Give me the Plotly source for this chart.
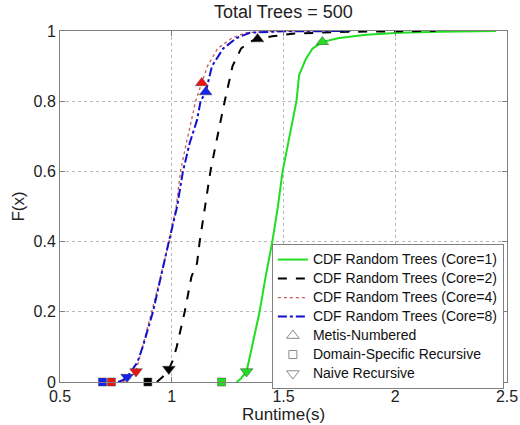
import plotly.graph_objects as go

# ---- data ----
core_labels = ["CDF Random Trees (Core=1)", "CDF Random Trees (Core=2)",
               "CDF Random Trees (Core=4)", "CDF Random Trees (Core=8)"]

core1_x = [1.29, 1.31, 1.335, 1.36, 1.393, 1.42, 1.45, 1.475, 1.496, 1.527, 1.558, 1.57, 1.60, 1.63, 1.674, 1.75, 1.87, 2.02, 2.2, 2.45]
core1_F = [0.0, 0.01, 0.03, 0.1, 0.2, 0.3, 0.4, 0.5, 0.6, 0.7, 0.8, 0.875, 0.92, 0.95, 0.969, 0.98, 0.989, 0.995, 0.998, 1.0]

core2_x = [0.933, 0.96, 0.987, 1.006, 1.022, 1.058, 1.088, 1.113, 1.125, 1.152, 1.173, 1.198, 1.219, 1.237, 1.272, 1.31, 1.35, 1.384, 1.45, 1.55, 1.8, 2.18]
core2_F = [0.0, 0.015, 0.037, 0.063, 0.1, 0.2, 0.3, 0.338, 0.4, 0.51, 0.6, 0.68, 0.746, 0.8, 0.9, 0.95, 0.97, 0.977, 0.985, 0.993, 0.998, 1.0]

core4_x = [0.78, 0.81, 0.84, 0.87, 0.91, 0.95, 0.988, 1.02, 1.039, 1.065, 1.088, 1.107, 1.134, 1.16, 1.205, 1.27, 1.33, 1.45, 1.7]
core4_F = [0.0, 0.01, 0.03, 0.1, 0.2, 0.3, 0.4, 0.5, 0.6, 0.68, 0.746, 0.8, 0.852, 0.9, 0.95, 0.98, 0.995, 0.999, 1.0]

core8_x = [0.76, 0.78, 0.80, 0.84, 0.85, 0.87, 0.916, 0.95, 0.987, 1.024, 1.05, 1.08, 1.113, 1.129, 1.152, 1.18, 1.23, 1.29, 1.35, 1.5, 1.8]
core8_F = [0.0, 0.005, 0.014, 0.05, 0.063, 0.1, 0.2, 0.3, 0.4, 0.5, 0.6, 0.68, 0.746, 0.8, 0.826, 0.9, 0.95, 0.98, 0.995, 0.999, 1.0]

# markers per core (order: core1, core2, core4, core8)
metis_x = [1.674, 1.384, 1.134, 1.152]
metis_F = [0.969, 0.977, 0.852, 0.826]
domain_x = [1.223, 0.893, 0.73, 0.69]
domain_F = [0.0, 0.0, 0.0, 0.0]
naive_x = [1.335, 0.987, 0.84, 0.80]
naive_F = [0.03, 0.037, 0.03, 0.014]

marker_labels = ["Metis-Numbered", "Domain-Specific Recursive", "Naive Recursive"]
x_ticks = [0.5, 1, 1.5, 2, 2.5]
x_ticktext = ["0.5", "1", "1.5", "2", "2.5"]
y_ticks = [0, 0.2, 0.4, 0.6, 0.8, 1]
y_ticktext = ["0", "0.2", "0.4", "0.6", "0.8", "1"]

line_colors = ["#22dd22", "#000000", "#c85a5a", "#1111cc"]
mark_colors = ["#22dd22", "#000000", "#ee1111", "#1122ee"]
dashes = ["solid", "dash", "dot", "dashdot"]
widths = [2, 2, 1.3, 2]

FONT = "Liberation Sans, Arial, sans-serif"


def big(t):
    return '<span style="font-size:14px">' + t + '</span>'


fig = go.Figure()
curves = [(core1_x, core1_F), (core2_x, core2_F), (core4_x, core4_F), (core8_x, core8_F)]
for i, (xs, fs) in enumerate(curves):
    fig.add_trace(go.Scatter(x=xs, y=fs, mode="lines", name=big(core_labels[i]),
                             line=dict(color=line_colors[i], dash=dashes[i], width=widths[i]),
                             cliponaxis=False))

for i in range(4):
    c = mark_colors[i]
    fig.add_trace(go.Scatter(x=[metis_x[i]], y=[metis_F[i]], mode="markers", showlegend=False,
                             marker=dict(symbol="triangle-up", size=11, color=c,
                                         line=dict(color="#444444", width=0.5)), cliponaxis=False))
    fig.add_trace(go.Scatter(x=[domain_x[i]], y=[domain_F[i]], mode="markers", showlegend=False,
                             marker=dict(symbol="square", size=8, color=c,
                                         line=dict(color="#444444", width=0.5)), cliponaxis=False))
    fig.add_trace(go.Scatter(x=[naive_x[i]], y=[naive_F[i]], mode="markers", showlegend=False,
                             marker=dict(symbol="triangle-down", size=11, color=c,
                                         line=dict(color="#444444", width=0.5)), cliponaxis=False))

for sym, lab in zip(["triangle-up-open", "square-open", "triangle-down-open"], marker_labels):
    fig.add_trace(go.Scatter(x=[None], y=[None], mode="markers", name=big(lab),
                             marker=dict(symbol=sym, size=11 if "triangle" in sym else 8,
                                         color="#8a8a8a", line=dict(width=1))))

axis_common = dict(showline=True, linecolor="#808080", linewidth=1, mirror="ticks",
                   ticks="inside", ticklen=5, tickcolor="#808080",
                   showgrid=True, gridcolor="#b8b8b8", griddash="dot", gridwidth=1,
                   zeroline=False, tickfont=dict(size=16, color="#222222", family=FONT),
                   title_font=dict(size=17, color="#222222", family=FONT))

fig.update_xaxes(range=[0.5, 2.5], tickvals=x_ticks, ticktext=x_ticktext,
                 title_text="Runtime(s)", title_standoff=2, **axis_common)
fig.update_yaxes(range=[0, 1], tickvals=y_ticks, ticktext=y_ticktext,
                 title_text="F(x)", title_standoff=4, **axis_common)

fig.update_layout(
    width=520, height=425,
    margin=dict(l=60, r=13, t=31, b=43, autoexpand=False),
    paper_bgcolor="white", plot_bgcolor="white",
    font=dict(family=FONT, color="#222222"),
    title=dict(text="Total Trees = 500", x=0.545, xanchor="center", y=0.988, yanchor="top",
               font=dict(size=18, color="#222222", family=FONT)),
    legend=dict(x=0.474, y=0.393, xanchor="left", yanchor="top",
                bgcolor="white", bordercolor="#808080", borderwidth=1,
                font=dict(size=12, color="#111111", family=FONT),
                tracegroupgap=0, itemwidth=30),
    showlegend=True,
)

fig.write_html("out.html")
